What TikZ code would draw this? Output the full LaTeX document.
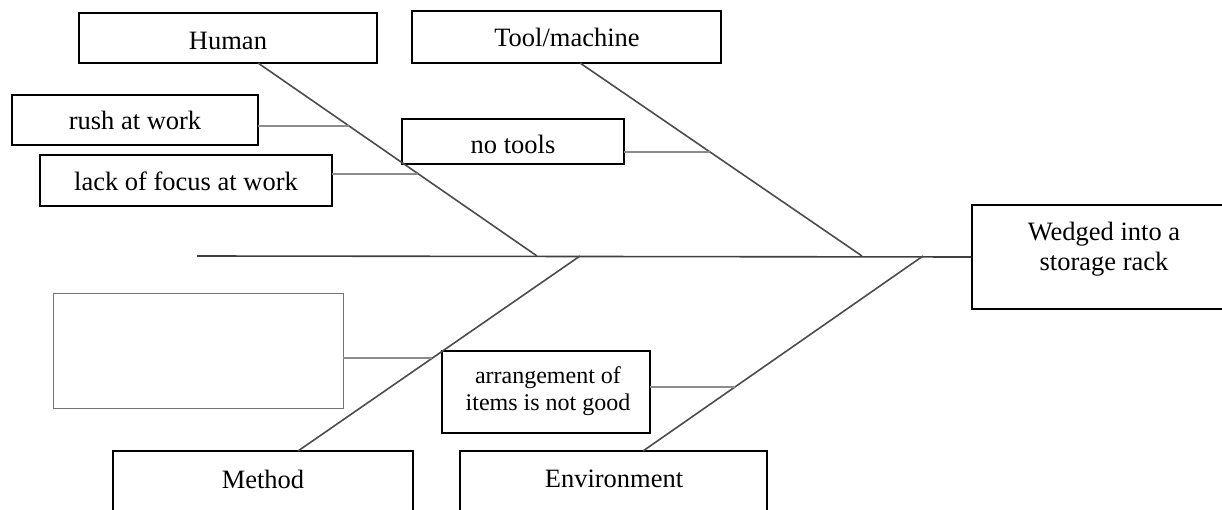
\documentclass[tikz,border=0pt]{standalone}
\usepackage{fontspec}
\setmainfont{Liberation Serif}
\usetikzlibrary{calc}
\begin{document}
\begin{tikzpicture}[x=1pt,y=-1pt,
  box/.style={draw=black, line width=1.5pt, rectangle, inner sep=0pt},
  emptybox/.style={draw=black!55, line width=1pt, rectangle, inner sep=0pt},
  lbl/.style={inner sep=0pt, font=\fontsize{26.5}{30}\selectfont, align=center},
  smalllbl/.style={inner sep=0pt, font=\fontsize{24}{27}\selectfont, align=center},
  spine/.style={draw=black!75, line width=1.6pt},
  bone/.style={draw=black!70, line width=1.6pt},
  twig/.style={draw=black!45, line width=1.6pt}]
\useasboundingbox (0,0) rectangle (1222,510);
% boxes
\node[box, minimum width=298, minimum height=50] (human) at (228,38) {};
\node[box, minimum width=309, minimum height=52] (tool) at (566.5,37) {};
\node[box, minimum width=246, minimum height=50] (rush) at (135,120) {};
\node[box, minimum width=292, minimum height=51] (focus) at (186,180.5) {};
\node[box, minimum width=222, minimum height=45] (notools) at (513,141.5) {};
\node[box, minimum width=260, minimum height=104] (effect) at (1102,257) {};
\node[emptybox, minimum width=290, minimum height=114] (blank) at (198,351) {};
\node[box, minimum width=208, minimum height=82] (arr) at (546,392) {};
\node[box, minimum width=300, minimum height=62] (method) at (263,482) {};
\node[box, minimum width=307, minimum height=62] (env) at (613.5,482) {};
% texts
\node[lbl, anchor=base] (thuman) at (228,50) {Human};
\node[lbl, anchor=base] (ttool) at (567,47) {Tool/machine};
\node[lbl, anchor=base] (trush) at (135,130) {rush at work};
\node[lbl, anchor=base] (tfocus) at (186,191) {lack of focus at work};
\node[lbl, anchor=base] (tnotools) at (513,154) {no tools};
\node[lbl] (teffect) at (1104,249) {Wedged into a\\storage rack};
\node[smalllbl] (tarr) at (548,391) {arrangement of\\items is not good};
\node[lbl, anchor=base] (tmethod) at (263,488) {Method};
\node[lbl, anchor=base] (tenv) at (614,487) {Environment};
% coordinates
\coordinate (sL) at (197,256);
\coordinate (hS) at (258,63);  \coordinate (hE) at (537,256);
\coordinate (tS) at (580,63);  \coordinate (tE) at (862,256);
\coordinate (mS) at (580,256); \coordinate (mE) at (298,451);
\coordinate (eS) at (923,256); \coordinate (eE) at (643,451);
\coordinate (r1) at (258,126); \coordinate (r2) at (349,126);
\coordinate (f1) at (332,174); \coordinate (f2) at (418,174);
\coordinate (n1) at (624,152); \coordinate (n2) at (710,152);
\coordinate (b1) at (343,358); \coordinate (b2) at (432,358);
\coordinate (a1) at (650,387); \coordinate (a2) at (735,387);
% spine
\draw[spine] (sL) -- (effect.west);
% bones
\draw[bone] (hS) -- (hE);
\draw[bone] (tS) -- (tE);
\draw[bone] (mS) -- (mE);
\draw[bone] (eS) -- (eE);
% twigs
\draw[twig] (r1) -- (r2);
\draw[twig] (f1) -- (f2);
\draw[twig] (n1) -- (n2);
\draw[twig] (b1) -- (b2);
\draw[twig] (a1) -- (a2);
\end{tikzpicture}
\end{document}
